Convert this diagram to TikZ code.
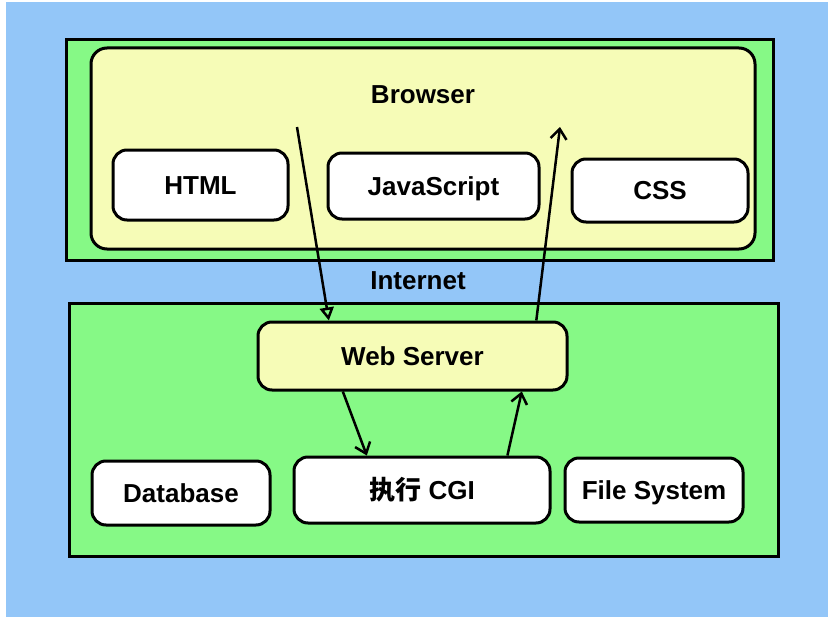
\documentclass[tikz,border=0pt]{standalone}
\usepackage{fontspec}
\setmainfont{Liberation Sans}
\newfontfamily\cjkfont{Noto Sans CJK SC}
\usetikzlibrary{arrows.meta}
\definecolor{skyblue}{HTML}{93C6F8}
\definecolor{panelgreen}{HTML}{86F986}
\definecolor{paleyellow}{HTML}{F6FCB7}
\tikzset{
  panel/.style={draw, line width=3pt, fill=panelgreen},
  part/.style={draw, line width=3pt, rounded corners=14pt, fill=white, inner sep=0pt,
    text height=18.6pt, text depth=0pt, font=\fontsize{26}{30}\selectfont\bfseries},
  heading/.style={font=\fontsize{26}{30}\selectfont\bfseries},
  flow/.style={-{Straight Barb[length=10pt,width=16pt,line width=2.5pt]}, line width=2.5pt},
  request/.style={-{Triangle[open,length=13pt,width=14pt,line width=2.5pt]}, line width=2.5pt}
}
\begin{document}
\begin{tikzpicture}[x=1pt,y=-1pt]
\useasboundingbox (0,0) rectangle (830,618);
\fill[skyblue] (6,2) rectangle (828,617);
\draw[panel] (66,40) rectangle (773,260);
\draw[panel] (69,303) rectangle (778,556);
\draw[line width=3pt, rounded corners=16pt, fill=paleyellow] (91,48) rectangle (755,249);

\node[heading] (browser) at (423,95) {Browser};
\node[part, minimum width=175pt, minimum height=70pt] (html) at (200.5,185) {HTML};
\node[part, minimum width=211pt, minimum height=66pt] (js) at (433.5,186) {JavaScript};
\node[part, minimum width=176pt, minimum height=63pt] (css) at (660,190.5) {CSS};
\node[heading] (internet) at (418,281) {Internet};

\node[part, fill=paleyellow, minimum width=309pt, minimum height=68pt] (web) at (412.5,356) {Web Server};
\node[part, minimum width=178pt, minimum height=64pt] (db) at (181,493) {Database};
\node[part, minimum width=256pt, minimum height=66pt] (cgi) at (422,490) {{\cjkfont\bfseries 执行} CGI};
\node[part, minimum width=178pt, minimum height=64pt] (fs) at (654,490) {File System};

\coordinate (send) at (297,127);
\coordinate (recv) at (560,127);
\draw[request] (send) -- (web.157);
\draw[flow] (web.16) -- (recv);
\draw[flow] (web.207) -- (cgi.148);
\draw[flow] (cgi.22) -- (web.-18);
\end{tikzpicture}
\end{document}
